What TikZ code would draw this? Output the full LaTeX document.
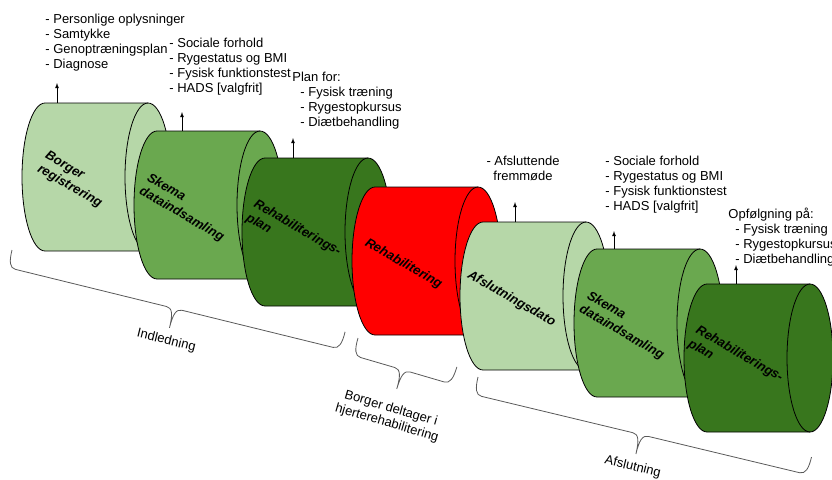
\documentclass[tikz,border=0pt]{standalone}
\usepackage{fontspec}
\setmainfont{Liberation Sans}
\usepackage{tikz}
\definecolor{lightgreen}{HTML}{B6D7A8}
\definecolor{midgreen}{HTML}{6AA84F}
\definecolor{darkgreen}{HTML}{38761D}
\definecolor{bracegray}{HTML}{595959}
\newcommand{\drum}[5] % name, x of left end, y of top, fill colour, label
{
	% body with the right end
	\draw[fill=#4] (#2,#3) -- (#2+103,#3) arc (-90:90:23 and 74) -- (#2,#3+148) arc (90:270:23 and 74) -- cycle;
	% inner edge of the right end
	\draw (#2+103,#3) arc (270:90:23 and 74);
	% label
	\node[drumtext] (#1) at (#2+28.5,#3+77) {#5};
	\coordinate (#1top) at (#2,#3);
}
\newcommand{\phasebrace}[7] % name, x, y of left end, length, angle, label distance, label
{
	\begin{scope}[shift={(#2,#3)}, rotate=#5]
	\draw[bracegray] (0,0) .. controls (0,12) and (2,18) .. (8,18) -- ({#4/2-8},18) .. controls ({#4/2-2},18) and ({#4/2},24) .. ({#4/2},38) .. controls ({#4/2},24) and ({#4/2+2},18) .. ({#4/2+8},18) -- ({#4-8},18) .. controls ({#4-2},18) and (#4,12) .. (#4,0);
	\node[phasetext, rotate=#5] (#1) at ({#4/2},#6) {#7};
	\end{scope}
}
\begin{document}
\begin{tikzpicture}[x=1pt, y=-1pt, line width=0.8pt,
	drumtext/.style={font=\fontsize{13}{15.5}\selectfont\bfseries\itshape, rotate=-30, align=left, inner sep=0pt},
	list/.style={font=\fontsize{13}{15}\selectfont, align=left, anchor=north west, inner sep=0pt},
	phasetext/.style={font=\fontsize{13}{15}\selectfont, align=center, anchor=north, inner sep=0pt}]
	\useasboundingbox (0,0) rectangle (832,479);
	
	% the seven steps
	\drum{d1}{45}{103}{lightgreen}{Borger\\registrering};
	\drum{d2}{157}{131}{midgreen}{Skema\\dataindsamling};
	\drum{d3}{265}{158}{darkgreen}{Rehabiliterings-\\plan};
	\drum{d4}{375}{187}{red}{Rehabilitering};
	\drum{d5}{483}{222}{lightgreen}{Afslutningsdato};
	\drum{d6}{597}{249}{midgreen}{Skema\\dataindsamling};
	\drum{d7}{707}{284}{darkgreen}{Rehabiliterings-\\plan};
	
	% notes above
	\node[list] (reg) at (45,14) {- Personlige oplysninger\\- Samtykke\\- Genoptræningsplan\\- Diagnose};
	\node[list] (data1) at (169,38) {- Sociale forhold\\- Rygestatus og BMI\\- Fysisk funktionstest\\- HADS [valgfrit]};
	\node[list] (plan1) at (292,71.5) {Plan for:\\\hspace*{8pt}- Fysisk træning\\\hspace*{8pt}- Rygestopkursus\\\hspace*{8pt}- Diætbehandling};
	\node[list, align=center, anchor=north] (close) at (523,156) {- Afsluttende\\fremmøde};
	\node[list] (data2) at (605,155.5) {- Sociale forhold\\- Rygestatus og BMI\\- Fysisk funktionstest\\- HADS [valgfrit]};
	\node[list] (plan2) at (728,207.5) {Opfølgning på:\\\hspace*{7pt}- Fysisk træning\\\hspace*{7pt}- Rygestopkursus\\\hspace*{7pt}- Diætbehandling};
	
	% small arrows
	\coordinate (up1) at (57,83);
	\coordinate (up2) at (182,112);
	\coordinate (up3) at (293,138);
	\coordinate (up5) at (515,202);
	\coordinate (up6) at (614,231);
	\coordinate (up7) at (736,265);
	\draw[-latex] (up1 |- d1top) -- (up1);
	\draw[-latex] (up2 |- d2top) -- (up2);
	\draw[-latex] (up3 |- d3top) -- (up3);
	\draw[-latex] (up5 |- d5top) -- (up5);
	\draw[-latex] (up6 |- d6top) -- (up6);
	\draw[-latex] (up7 |- d7top) -- (up7);
	
	% phases
	\phasebrace{intro}{12}{250}{343}{-13.8}{45}{Indledning};
	\phasebrace{rehab}{358}{338}{103}{-16.3}{52}{Borger deltager i\\hjerterehabilitering};
	\phasebrace{closing}{478}{377}{343}{-13.5}{45}{Afslutning};
\end{tikzpicture}
\end{document}
